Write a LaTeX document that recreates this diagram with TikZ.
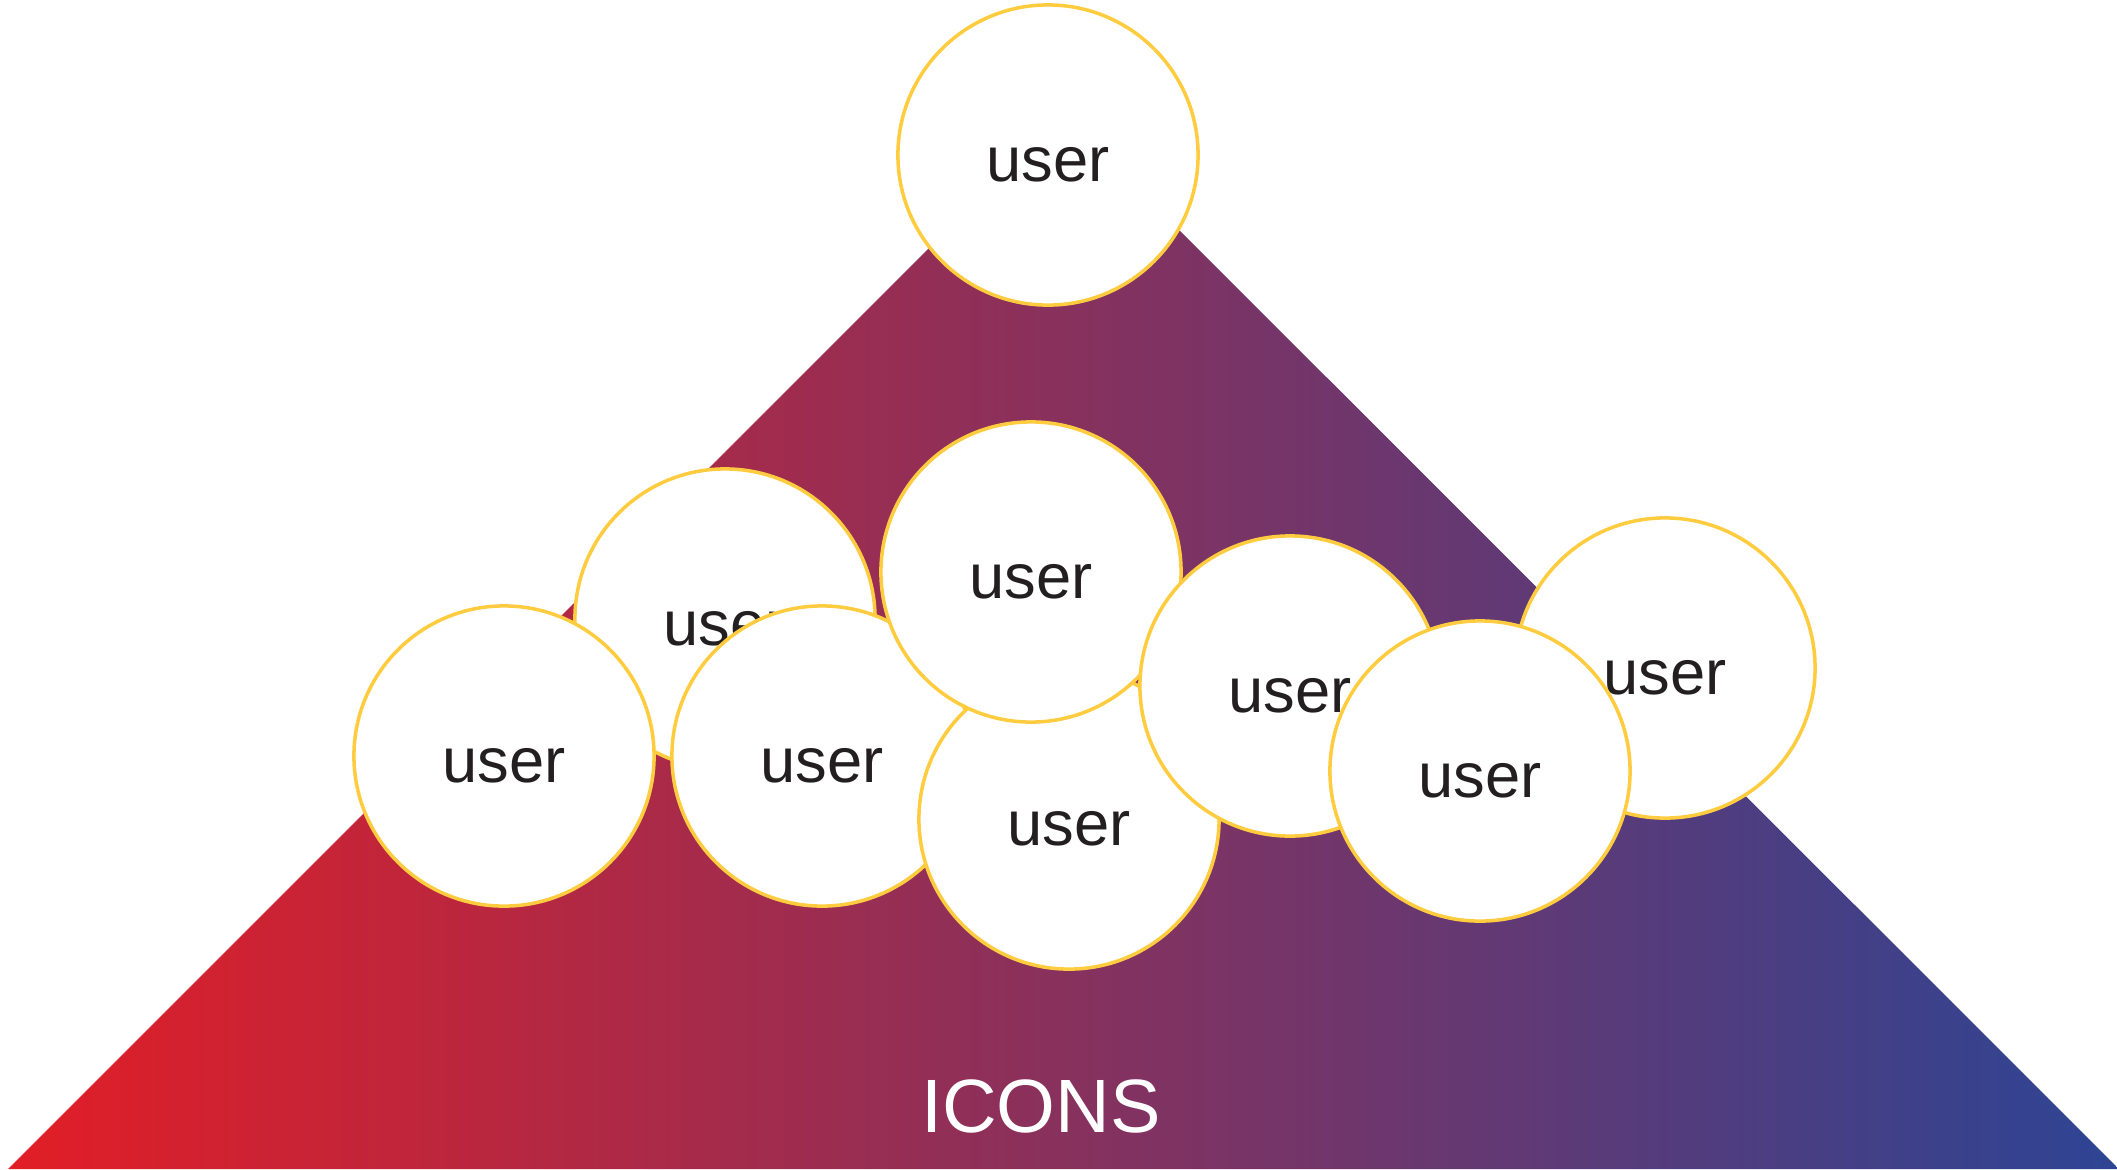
\documentclass[tikz,border=0pt]{standalone}
\usepackage{fontspec}
\setmainfont{Liberation Sans}
\definecolor{iconred}{RGB}{226,30,38}
\definecolor{iconblue}{RGB}{45,68,148}
\definecolor{ringyellow}{RGB}{255,204,64}
\definecolor{usertext}{RGB}{35,31,32}
\tikzset{
  user/.style={circle, draw=ringyellow, line width=1pt, fill=white,
    minimum size=3cm, inner sep=0pt, text=usertext,
    text height=15pt, text depth=0pt,
    font=\fontsize{18}{20}\selectfont},
  label/.style={text=white, font=\fontsize{21.5}{24}\selectfont}
}

\begin{document}
\begin{tikzpicture}[x=0.01cm, y=-0.01cm]
    \useasboundingbox (0,0) rectangle (2117,1169);
    % pyramid
    \shade[left color=iconred, right color=iconblue]
        (8,1169) -- (1063,114) -- (2119,1169) -- cycle;
    % users, back to front
    \node[user] (u2) at (725,619) {user};
    \node[user] (u4) at (504,756) {user};
    \node[user] (u5) at (822,756) {user};
    \node[user] (u6) at (1069,819) {user};
    \node[user] (u3) at (1031,572) {user};
    \node[user] (u7) at (1290,686) {user};
    \node[user] (u8) at (1665,668) {user};
    \node[user] (u9) at (1480,771) {user};
    \node[user] (u1) at (1048,155) {user};
    \node[label] (icons) at (1041,1106) {ICONS};
\end{tikzpicture}
\end{document}
